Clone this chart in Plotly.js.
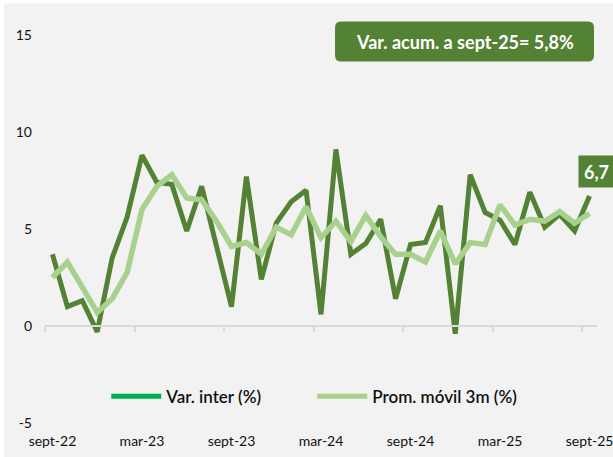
<!DOCTYPE html>
<html>
<head>
<meta charset="utf-8">
<script src="https://cdn.plot.ly/plotly-3.0.1.min.js"></script>
<style>html,body{margin:0;padding:0;background:#fff;}#chart{width:613px;height:457px;}</style>
</head>
<body>
<div id="chart"></div>
<script>
// Monthly series sept-22 .. sept-25
const months = ["sept-22","oct-22","nov-22","dic-22","ene-23","feb-23","mar-23","abr-23","may-23","jun-23","jul-23","ago-23",
  "sept-23","oct-23","nov-23","dic-23","ene-24","feb-24","mar-24","abr-24","may-24","jun-24","jul-24","ago-24",
  "sept-24","oct-24","nov-24","dic-24","ene-25","feb-25","mar-25","abr-25","may-25","jun-25","jul-25","ago-25","sept-25"];
const varInter = [3.7, 1.0, 1.3, -0.3, 3.5, 5.6, 8.8, 7.4, 7.3, 4.9, 7.2, 4.1,
  1.0, 7.7, 2.4, 5.3, 6.4, 7.0, 0.6, 9.1, 3.7, 4.25, 5.5, 1.4,
  4.2, 4.3, 6.2, -0.4, 7.8, 5.85, 5.45, 4.2, 6.9, 5.1, 5.75, 4.9, 6.7];
const promMovil = [2.5, 3.3, 2.0, 0.7, 1.4, 2.75, 6.0, 7.2, 7.8, 6.6, 6.5, 5.4,
  4.1, 4.3, 3.7, 5.1, 4.7, 6.15, 4.55, 5.4, 4.35, 5.7, 4.6, 3.7,
  3.7, 3.3, 4.9, 3.2, 4.3, 4.2, 6.25, 5.2, 5.5, 5.4, 5.9, 5.3, 5.8];
const seriesNames = ["Var. inter (%)", "Prom. móvil 3m (%)"];
const xLabelIdx = [0, 6, 12, 18, 24, 30, 36];
const yTicks = [-5, 0, 5, 10, 15];
const boxText = "Var. acum. a sept-25= 5,8%";

const idx = months.map((m, i) => i);
const FONT = "Lato, 'Open Sans', sans-serif";
const DARK = "#548235", LIGHT = "#a9d18e", LEG1 = "#00b050";

const traces = [
  {x: idx, y: varInter, type: "scatter", mode: "lines", name: seriesNames[0],
   line: {color: DARK, width: 5}, showlegend: false, hoverinfo: "skip"},
  {x: idx, y: promMovil, type: "scatter", mode: "lines", name: seriesNames[1], xaxis: "x2",
   line: {color: LIGHT, width: 5.5}, showlegend: false, hoverinfo: "skip"},
  {x: [null], y: [null], type: "scatter", mode: "lines", name: seriesNames[0],
   line: {color: LEG1, width: 5}},
  {x: [null], y: [null], type: "scatter", mode: "lines", name: seriesNames[1],
   line: {color: LIGHT, width: 5}}
];

// rounded box path (pixels, centred)
function roundRect(w, h, r) {
  const a = w / 2, b = h / 2;
  return `M ${-a + r},${-b} L ${a - r},${-b} Q ${a},${-b} ${a},${-b + r} L ${a},${b - r} Q ${a},${b} ${a - r},${b} ` +
         `L ${-a + r},${b} Q ${-a},${b} ${-a},${b - r} L ${-a},${-b + r} Q ${-a},${-b} ${-a + r},${-b} Z`;
}

const last = varInter.length - 1;
const layout = {
  width: 613, height: 457,
  margin: {l: 45, r: 16, t: 35, b: 34},
  paper_bgcolor: "#ffffff",
  plot_bgcolor: "rgba(0,0,0,0)",
  font: {family: FONT, color: "#111111", size: 14},
  showlegend: true,
  legend: {orientation: "h", x: 0.111, y: 0.068, xanchor: "left", yanchor: "middle",
           font: {size: 17, family: FONT, color: "#111111", weight: 600}, bgcolor: "rgba(0,0,0,0)",
           itemwidth: 50, tracegroupgap: 0, entrywidth: 141, entrywidthmode: "pixels"},
  xaxis: {range: [-0.5, 36.5], tickvals: xLabelIdx, ticktext: xLabelIdx.map(i => months[i]),
          showline: false, showgrid: false, zeroline: false, ticks: "", ticklabelstandoff: 8,
          ticklabeloverflow: "allow", automargin: false,
          tickfont: {size: 14}, fixedrange: true},
  xaxis2: {range: [-0.5, 36.5], overlaying: "x", anchor: "free", position: 0.25, side: "bottom",
           showline: true, linecolor: "#d9d9d9", linewidth: 2, showgrid: false, zeroline: false,
           ticks: "outside", ticklen: 5, tickwidth: 2, tickcolor: "#d9d9d9",
           tickvals: [-0.5, 5.5, 11.5, 17.5, 23.5, 29.5, 35.5], showticklabels: false},
  yaxis: {range: [-5, 15], tickvals: yTicks, ticktext: yTicks.map(v => String(v)),
          showgrid: false, zeroline: false, showline: false,
          ticks: "", ticklabelstandoff: 12, tickfont: {size: 14}},
  shapes: [
    {type: "rect", xref: "paper", yref: "paper", x0: -0.0743, x1: 1.1, y0: -0.2, y1: 1.081,
     fillcolor: "#f2f2f2", line: {width: 0}, layer: "below"},
    {type: "path", xref: "paper", yref: "paper", xsizemode: "pixel", ysizemode: "pixel",
     xanchor: 0.7600, yanchor: 0.9832, path: roundRect(259, 40, 6),
     fillcolor: DARK, line: {width: 0}, layer: "above"}
  ],
  annotations: [
    {xref: "paper", yref: "paper", x: 0.7600, y: 0.9832, text: boxText, showarrow: false,
     xanchor: "center", yanchor: "middle", font: {size: 18, color: "#ffffff", family: FONT, weight: 700}},
    {x: last, y: varInter[last], xref: "x", yref: "y", text: varInter[last].toFixed(1).replace(".", ","),
     showarrow: false, xanchor: "center", yanchor: "middle", xshift: 6.5, yshift: 24.5,
     bgcolor: DARK, width: 35, height: 31, borderpad: 0,
     font: {size: 18, color: "#ffffff", family: FONT, weight: 700}}
  ]
};

Plotly.newPlot("chart", traces, layout, {staticPlot: true, displayModeBar: false});
</script>
</body>
</html>
